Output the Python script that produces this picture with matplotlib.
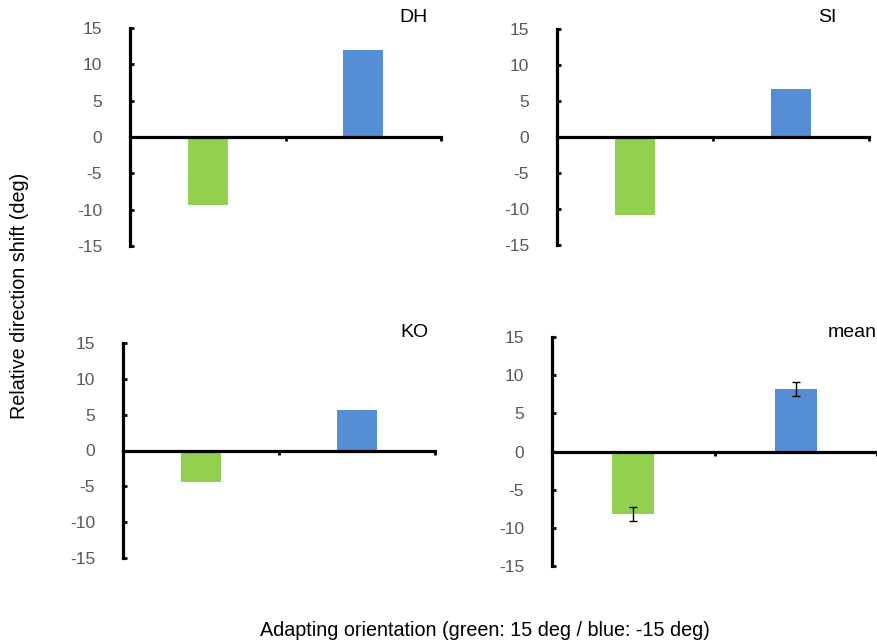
import matplotlib
matplotlib.use("Agg")
import matplotlib.pyplot as plt

plt.rcParams['font.family'] = ['Liberation Sans', 'DejaVu Sans']
plt.rcParams['axes.unicode_minus'] = False

# data
panels = ["DH", "SI", "KO", "mean"]
green_vals = [-9.3, -10.9, -4.4, -8.2]
blue_vals = [12.0, 6.7, 5.6, 8.2]
green_err = [0, 0, 0, 0.95]
blue_err = [0, 0, 0, 0.95]
yticks = [-15, -10, -5, 0, 5, 10, 15]

GREEN = "#92D050"
BLUE = "#558ED5"

W, H = 878, 644
# axes boxes in pixels: left, top, right, bottom
boxes = [(130, 28, 441, 246), (557, 29, 869, 245),
         (123, 343, 435, 558), (552, 337, 877, 566)]
# panel name anchors (right edge x, centre y) in pixels
name_pos = [(428, 17), (837, 18), (429, 333), (877, 333)]

fig = plt.figure(figsize=(W / 100, H / 100), dpi=100)

for i, name in enumerate(panels):
    l, t, r, b = boxes[i]
    ax = fig.add_axes([l / W, 1 - b / H, (r - l) / W, (b - t) / H])
    ax.bar(0.5, green_vals[i], width=0.26, color=GREEN, zorder=2)
    ax.bar(1.5, blue_vals[i], width=0.26, color=BLUE, zorder=2)
    if green_err[i] > 0:
        ax.errorbar([0.5, 1.5], [green_vals[i], blue_vals[i]],
                    yerr=[green_err[i], blue_err[i]], fmt='none',
                    ecolor='black', elinewidth=1, capsize=3, capthick=1, zorder=3)
    ax.set_xlim(0, 2)
    ax.set_ylim(-15, 15)
    ax.set_yticks(yticks)
    ax.set_xticks([1, 2])
    ax.set_xticklabels([])
    for s in ['top', 'right']:
        ax.spines[s].set_visible(False)
    ax.spines['bottom'].set_position(('data', 0))
    ax.spines['bottom'].set_linewidth(2.3)
    ax.spines['left'].set_linewidth(2.3)
    ax.spines['bottom'].set_zorder(4)
    ax.tick_params(axis='y', direction='in', length=3, width=2, pad=20,
                   labelsize=12.5, labelcolor='#595959')
    ax.tick_params(axis='x', direction='out', length=3, width=2)
    nx, ny = name_pos[i]
    fig.text(nx / W, 1 - ny / H, name, ha='right', va='center',
             fontsize=14, color='black')

fig.text(20 / W, 1 - 296 / H, "Relative direction shift (deg)", rotation=90,
         ha='center', va='center', fontsize=14.2)
fig.text(485 / W, 1 - 631 / H, "Adapting orientation (green: 15 deg / blue: -15 deg)",
         ha='center', va='center', fontsize=14.2)

fig.savefig("out.png", dpi=100)
